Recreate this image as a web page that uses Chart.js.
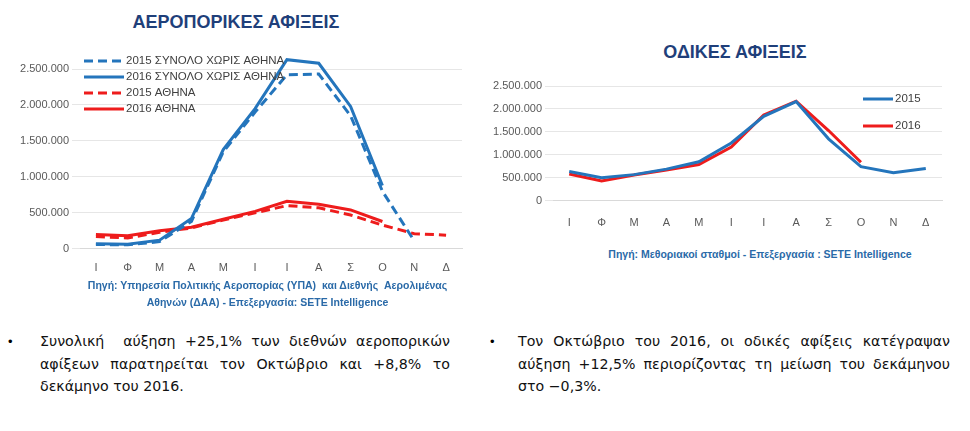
<!DOCTYPE html>
<html><head><meta charset="utf-8">
<script src="https://cdn.jsdelivr.net/npm/chart.js@4"></script>
<style>
body{margin:0;width:970px;height:431px;background:#fff;position:relative;overflow:hidden;font-family:"Liberation Sans",sans-serif}
.t{position:absolute;color:#1f3f7a;font-weight:bold;font-size:18px;text-align:center}
.src{position:absolute;color:#2a6aa8;font-weight:bold;font-size:10.5px;text-align:center;line-height:17px}
.b{position:absolute;font-family:"DejaVu Sans",sans-serif;font-size:14.2px;line-height:22.5px;text-align:justify;color:#111}
.dot{position:absolute;font-size:13px}
canvas{position:absolute}
</style></head><body>
<div class="t" style="left:0;width:472px;top:12px">ΑΕΡΟΠΟΡΙΚΕΣ ΑΦΙΞΕΙΣ</div>
<div class="t" style="left:500px;width:470px;top:42px">ΟΔΙΚΕΣ ΑΦΙΞΕΙΣ</div>
<div style="position:absolute;left:0;top:40px;width:465px;height:240px"><canvas id="c1"></canvas></div>
<div style="position:absolute;left:480px;top:70px;width:465px;height:168px"><canvas id="c2"></canvas></div>
<div class="src" style="left:80px;width:375px;top:277px">Πηγή: Υπηρεσία Πολιτικής Αεροπορίας (ΥΠΑ) &nbsp;και Διεθνής &nbsp;Αερολιμένας Αθηνών (ΔΑΑ) - Επεξεργασία: SETE Intelligence</div>
<div class="src" style="left:560px;width:400px;top:246px">Πηγή: Μεθοριακοί σταθμοί - Επεξεργασία : SETE Intelligence</div>
<div class="dot" style="left:8px;top:334px">•</div>
<div class="b" style="left:40px;width:410px;top:330px">Συνολική &nbsp;αύξηση +25,1% των διεθνών αεροπορικών αφίξεων παρατηρείται τον Οκτώβριο και +8,8% το δεκάμηνο του 2016.</div>
<div class="dot" style="left:490px;top:334px">•</div>
<div class="b" style="left:518px;width:432px;top:330px">Τον Οκτώβριο του 2016, οι οδικές αφίξεις κατέγραψαν αύξηση +12,5% περιορίζοντας τη μείωση του δεκάμηνου στο −0,3%.</div>
<script>
const months=["Ι","Φ","Μ","Α","Μ","Ι","Ι","Α","Σ","Ο","Ν","Δ"];
const air2015Total=[60000,55000,100000,380000,1350000,1900000,2420000,2430000,1850000,800000,110000,null];
const air2016Total=[70000,65000,120000,420000,1380000,1950000,2630000,2580000,1980000,880000,null,null];
const air2015Athens=[170000,150000,230000,290000,400000,500000,600000,570000,470000,330000,210000,190000];
const air2016Athens=[200000,180000,250000,300000,410000,520000,660000,620000,540000,380000,null,null];
const road2015=[637000,503000,570000,690000,850000,1260000,1840000,2160000,1350000,744000,610000,704000];
const road2016=[585000,430000,560000,670000,790000,1170000,1870000,2170000,1530000,840000,null,null];
const BLUE="#2475bc",RED="#ee1c1c",FONT="'Liberation Sans', sans-serif";
const fmt=v=>v.toLocaleString('de-DE');
function legendPlugin(x,y,dy,len){return{id:'lg',afterDraw(ch){const c=ch.ctx;c.save();
 ch.data.datasets.forEach((d,i)=>{const yy=y+i*dy;c.strokeStyle=d.borderColor;c.lineWidth=3;c.setLineDash(d.borderDash||[]);
 c.beginPath();c.moveTo(x,yy);c.lineTo(x+len,yy);c.stroke();c.setLineDash([]);c.fillStyle="#404040";c.font="11.5px "+FONT;c.textBaseline="middle";c.fillText(d.label,x+len+2,yy);});c.restore();}}}
function opts(padTop,yw,xpad){return{responsive:true,maintainAspectRatio:false,animation:false,
 layout:{padding:{top:padTop,right:3}},
 plugins:{legend:{display:false},tooltip:{enabled:false}},
 elements:{point:{radius:0},line:{borderWidth:3,tension:0}},
 scales:{x:{offset:true,grid:{display:false},border:{color:"#d9d9d9"},ticks:{padding:xpad,color:"#595959",font:{size:11,family:FONT}}},
 y:{min:0,max:2500000,afterFit(s){s.width=yw;},ticks:{stepSize:500000,color:"#595959",font:{size:11,family:FONT},callback:fmt},grid:{color:"#e6e6e6"},border:{display:false}}}}}
new Chart(document.getElementById('c1'),{type:'line',data:{labels:months,datasets:[
 {label:"2015 ΣΥΝΟΛΟ ΧΩΡΙΣ ΑΘΗΝΑ",data:air2015Total,borderColor:BLUE,borderDash:[9,5],clip:false},
 {label:"2016 ΣΥΝΟΛΟ ΧΩΡΙΣ ΑΘΗΝΑ",data:air2016Total,borderColor:BLUE,clip:false},
 {label:"2015 ΑΘΗΝΑ",data:air2015Athens,borderColor:RED,borderDash:[9,5]},
 {label:"2016 ΑΘΗΝΑ",data:air2016Athens,borderColor:RED}]},
 options:opts(29,80,5),plugins:[legendPlugin(84,21,16,40)]});
new Chart(document.getElementById('c2'),{type:'line',data:{labels:months,datasets:[
 {label:"2015",data:road2015,borderColor:BLUE},
 {label:"2016",data:road2016,borderColor:RED}]},
 options:opts(16,73,8),plugins:[legendPlugin(383,29,27,30)]});
</script></body></html>
